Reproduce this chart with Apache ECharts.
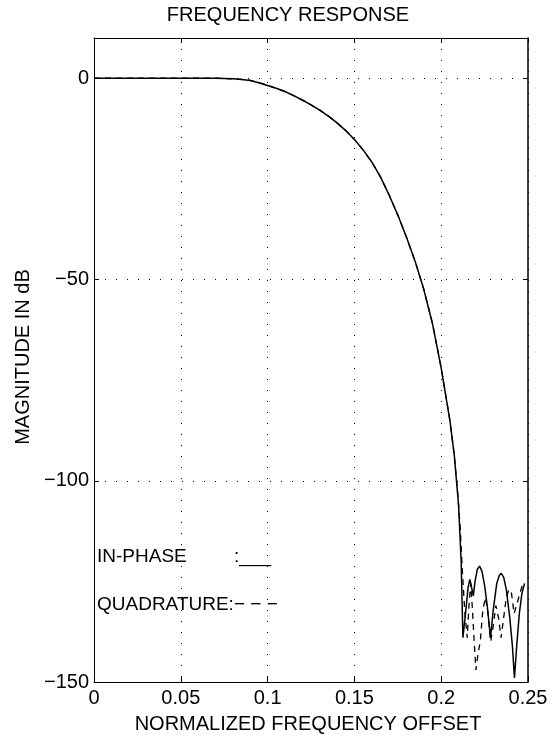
<!DOCTYPE html>
<html>
<head>
<meta charset="utf-8">
<script src="https://cdn.jsdelivr.net/npm/echarts@6/dist/echarts.min.js"></script>
<style>
html,body{margin:0;padding:0;background:#fff;}
#c{width:556px;height:742px;}
</style>
</head>
<body>
<div id="c"></div>
<script>
// ---- data ----
var titleText = 'FREQUENCY RESPONSE';
var xAxisTitle = 'NORMALIZED FREQUENCY OFFSET';
var yAxisTitle = 'MAGNITUDE IN dB';
var legendInPhase = 'IN-PHASE';
var legendInPhaseMark = ':___';
var legendQuad = 'QUADRATURE:\u2212 \u2212 \u2212';

var xTicks = [0, 0.05, 0.1, 0.15, 0.2, 0.25];
var yTicks = [-150, -100, -50, 0];

// In-phase (solid)
var freqIn = [0, 0.02, 0.04, 0.06, 0.07, 0.075, 0.08, 0.085, 0.09, 0.095, 0.1, 0.105, 0.11, 0.115, 0.12, 0.125, 0.13, 0.135, 0.14, 0.145, 0.15, 0.155, 0.16, 0.165, 0.17, 0.175, 0.18, 0.185, 0.19, 0.195, 0.2, 0.205, 0.2075, 0.21, 0.2115, 0.2125,
  0.2140, 0.2155, 0.2165, 0.2175, 0.2185, 0.2195, 0.2208, 0.2221, 0.2235, 0.2250, 0.2265, 0.2284, 0.2300, 0.2320, 0.2335, 0.2346, 0.2360, 0.2375, 0.2395, 0.2410, 0.2422, 0.2435, 0.2450, 0.2465, 0.2480];
var magIn = [0, 0, 0, 0, 0, -0.05, -0.15, -0.3, -0.55, -1.1, -1.8, -2.5, -3.3, -4.3, -5.4, -6.6, -7.9, -9.4, -11.1, -13.0, -15.2, -17.8, -20.8, -24.5, -29.0, -34, -39.5, -45.5, -52.5, -61, -72, -85, -93.5, -106, -120, -139,
  -133, -126.5, -124.5, -126.5, -128.6, -125, -122, -121.2, -122.5, -126, -131, -139, -132, -125.5, -123.5, -123, -124, -127, -134, -141, -149, -141, -133, -128, -125.5];

// Quadrature (dashed)
var freqQ = [0, 0.02, 0.04, 0.06, 0.07, 0.075, 0.08, 0.085, 0.09, 0.095, 0.1, 0.105, 0.11, 0.115, 0.12, 0.125, 0.13, 0.135, 0.14, 0.145, 0.15, 0.155, 0.16, 0.165, 0.17, 0.175, 0.18, 0.185, 0.19, 0.195, 0.2, 0.205, 0.2075,
  0.2095, 0.2110, 0.2120, 0.2135, 0.2150, 0.2160, 0.2170, 0.2180, 0.2190, 0.2200, 0.2212, 0.2225, 0.2240, 0.2255, 0.2270, 0.2285, 0.2300, 0.2315, 0.2330, 0.2345, 0.2360, 0.2375, 0.2390, 0.2405, 0.2420, 0.2440, 0.2460, 0.2475];
var magQ = [0, 0, 0, 0, 0, -0.05, -0.15, -0.3, -0.55, -1.1, -1.8, -2.5, -3.3, -4.3, -5.4, -6.6, -7.9, -9.4, -11.1, -13.0, -15.2, -17.8, -20.8, -24.5, -29.0, -34, -39.5, -45.5, -52.5, -61, -72, -85, -93.5,
  -103, -112, -121, -132, -139, -131, -125.5, -132, -140, -147, -143, -140, -132, -129, -133, -140, -136, -131, -134, -139, -134, -129, -127, -128, -133, -130, -127, -125];

// ---- chart ----
function pairs(xs, ys) { var o = []; for (var i = 0; i < xs.length; i++) o.push([xs[i], ys[i]]); return o; }
var FONT = "'Liberation Sans', Arial, Helvetica, sans-serif";
var BLACK = '#000';
var dotted = { color: BLACK, width: 1, type: [1, 10] };

var chart = echarts.init(document.getElementById('c'), null, { renderer: 'canvas' });

function tickCfg() { return { show: true, inside: true, length: 5, lineStyle: { color: BLACK, width: 1 } }; }

chart.setOption({
  animation: false,
  backgroundColor: '#fff',
  grid: { left: 94, right: 28, top: 38, bottom: 60, containLabel: false, outerBoundsMode: 'none', show: false },
  xAxis: [{
    type: 'value', min: xTicks[0], max: xTicks[xTicks.length - 1], interval: xTicks[1] - xTicks[0], position: 'bottom',
    axisLine: { show: true, onZero: false, lineStyle: { color: BLACK, width: 1 } },
    axisTick: tickCfg(),
    axisLabel: { show: true, color: BLACK, fontFamily: FONT, fontSize: 20, margin: 6,
      formatter: function (v) { return String(Math.round(v * 1000) / 1000); } },
    splitLine: { show: true, lineStyle: dotted }
  }, {
    type: 'value', min: xTicks[0], max: xTicks[xTicks.length - 1], interval: xTicks[1] - xTicks[0], position: 'top',
    axisLine: { show: true, onZero: false, lineStyle: { color: BLACK, width: 1 } },
    axisTick: tickCfg(),
    axisLabel: { show: false }, splitLine: { show: false }
  }],
  yAxis: [{
    type: 'value', min: yTicks[0], max: 10, interval: yTicks[1] - yTicks[0], position: 'left',
    axisLine: { show: true, onZero: false, lineStyle: { color: BLACK, width: 1 } },
    axisTick: tickCfg(),
    axisLabel: { show: true, color: BLACK, fontFamily: FONT, fontSize: 20, margin: 5, showMaxLabel: false,
      formatter: function (v) { return yTicks.indexOf(v) < 0 ? '' : String(v).replace('-', '\u2212'); } },
    splitLine: { show: true, lineStyle: dotted }
  }, {
    type: 'value', min: yTicks[0], max: 10, interval: yTicks[1] - yTicks[0], position: 'right',
    axisLine: { show: true, onZero: false, lineStyle: { color: BLACK, width: 1.5 } },
    axisTick: tickCfg(),
    axisLabel: { show: false }, splitLine: { show: false }
  }],
  series: [{
    name: 'QUADRATURE', type: 'line', xAxisIndex: 0, yAxisIndex: 0, data: pairs(freqQ, magQ),
    showSymbol: false, smooth: false, z: 2,
    lineStyle: { color: BLACK, width: 1.3, type: [6, 5] }
  }, {
    name: 'IN-PHASE', type: 'line', xAxisIndex: 0, yAxisIndex: 0, data: pairs(freqIn, magIn),
    showSymbol: false, smooth: false, z: 3,
    lineStyle: { color: BLACK, width: 1.5 }
  }],
  graphic: [
    { type: 'text', x: 288, y: 15, style: { text: titleText, align: 'center', verticalAlign: 'middle', font: '20px ' + FONT, fill: BLACK } },
    { type: 'text', x: 308, y: 724, style: { text: xAxisTitle, align: 'center', verticalAlign: 'middle', font: '20px ' + FONT, fill: BLACK } },
    { type: 'text', x: 23, y: 357, rotation: Math.PI / 2, style: { text: yAxisTitle, align: 'center', verticalAlign: 'middle', font: '20px ' + FONT, fill: BLACK } },
    { type: 'text', x: 97, y: 557, style: { text: legendInPhase, align: 'left', verticalAlign: 'middle', font: '19px ' + FONT, fill: BLACK } },
    { type: 'text', x: 234, y: 557, style: { text: legendInPhaseMark, align: 'left', verticalAlign: 'middle', font: '19px ' + FONT, fill: BLACK } },
    { type: 'text', x: 97, y: 605, style: { text: legendQuad, align: 'left', verticalAlign: 'middle', font: '19px ' + FONT, fill: BLACK } }
  ]
});
</script>
</body>
</html>
